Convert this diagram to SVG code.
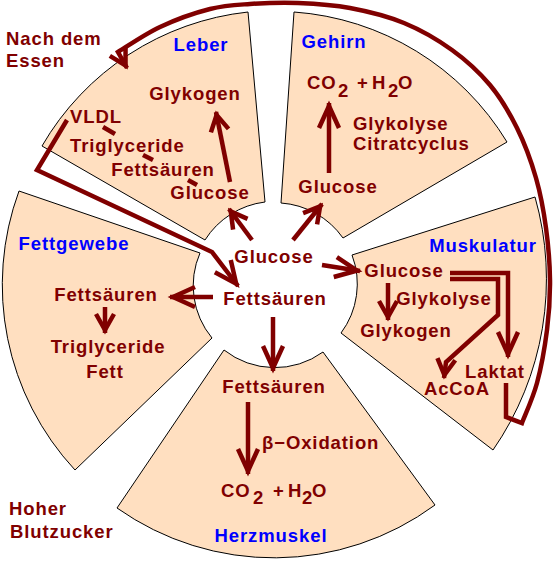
<svg xmlns="http://www.w3.org/2000/svg" width="560" height="563" viewBox="0 0 560 563">
<defs>
<style>
.sec{fill:#FFDFC0;stroke:#000;stroke-width:1}
text{font-family:"Liberation Sans",Arial,sans-serif;font-weight:bold;font-size:18.5px;letter-spacing:0.9px}
.t{fill:#800000}
.h{fill:#0000FF}
.m{text-anchor:middle}
.ar{fill:none;stroke:#800000;stroke-width:4.5;stroke-linejoin:miter}
.s{marker-end:url(#ahs)}
.l{marker-end:url(#ahl)}
</style>
<marker id="ahs" markerUnits="userSpaceOnUse" orient="auto" markerWidth="40" markerHeight="40" viewBox="-30 -20 40 40" refX="3" refY="0" overflow="visible"><path d="M-16,-9 L0,0 L-16,9" fill="none" stroke="#800000" stroke-width="4.5"/></marker>
<marker id="ahl" markerUnits="userSpaceOnUse" orient="auto" markerWidth="40" markerHeight="40" viewBox="-30 -20 40 40" refX="3" refY="0" overflow="visible"><path d="M-22,-10 L0,0 L-22,10" fill="none" stroke="#800000" stroke-width="4.5"/></marker>
</defs>
<rect width="560" height="563" fill="#fff"/>
<g id="leber">
<path class="sec" d="M42,146 A272,272 0 0 1 248,12 L265,202 A83,83 0 0 0 205,240 Z"/>
<text class="h m" x="201" y="51">Leber</text>
<text class="t m" x="195" y="100">Glykogen</text>
<text class="t" x="70" y="123">VLDL</text>
<text class="t" x="70" y="152">Triglyceride</text>
<text class="t m" x="163" y="176">Fettsäuren</text>
<text class="t m" x="210" y="199">Glucose</text>
</g>
<g id="gehirn">
<path class="sec" d="M294,12 A272,272 0 0 1 507,142 L343,238 A83,83 0 0 0 281,203 Z"/>
<text class="h m" x="334" y="48">Gehirn</text>
<text class="t"><tspan x="307" y="89">CO</tspan><tspan x="338" y="97">2</tspan><tspan x="357" y="89">+</tspan><tspan x="372" y="89">H</tspan><tspan x="388" y="97">2</tspan><tspan x="398" y="89">O</tspan></text>
<text class="t" x="353" y="130">Glykolyse</text>
<text class="t" x="353" y="150">Citratcyclus</text>
<text class="t m" x="338" y="193">Glucose</text>
</g>
<g id="muskulatur">
<path class="sec" d="M535,197 A300,300 0 0 1 493,450 L341,333 A82,82 0 0 0 352,255 Z"/>
<text class="h m" x="483" y="252">Muskulatur</text>
<text class="t m" x="404" y="277">Glucose</text>
<text class="t m" x="444" y="305">Glykolyse</text>
<text class="t m" x="406" y="337">Glykogen</text>
<text class="t m" x="495" y="378">Laktat</text>
<text class="t m" x="457" y="395">AcCoA</text>
</g>
<g id="herzmuskel">
<path class="sec" d="M224,350 A82,82 0 0 0 323,352 L435,505 A272,272 0 0 1 117,508 Z"/>
<text class="t m" x="274" y="393">Fettsäuren</text>
<text class="t" x="262" y="449">β−Oxidation</text>
<text class="t"><tspan x="221" y="497">CO</tspan><tspan x="253" y="504">2</tspan><tspan x="273" y="497">+</tspan><tspan x="288" y="497">H</tspan><tspan x="302" y="504">2</tspan><tspan x="312" y="497">O</tspan></text>
<text class="h m" x="271" y="542">Herzmuskel</text>
</g>
<g id="fettgewebe">
<path class="sec" d="M19,191 A272,272 0 0 0 75,470 L212,338 A82,82 0 0 1 200,253 Z"/>
<text class="h m" x="74" y="250">Fettgewebe</text>
<text class="t m" x="106" y="301">Fettsäuren</text>
<text class="t m" x="108" y="353">Triglyceride</text>
<text class="t m" x="105" y="378">Fett</text>
</g>
<g id="zentrum">
<text class="t m" x="274" y="263">Glucose</text>
<text class="t m" x="275" y="305">Fettsäuren</text>
</g>
<g id="labels">
<text class="t" x="6" y="45">Nach dem</text>
<text class="t" x="6" y="67">Essen</text>
<text class="t" x="9" y="515">Hoher</text>
<text class="t" x="10" y="538">Blutzucker</text>
</g>
<g id="connectors">
<path class="ar s" d="M230,182 L216,112"/>
<path class="ar s" d="M252,240 L229,209"/>
<path class="ar s" d="M293,240 L322,204"/>
<path class="ar l" d="M322,265 L360,271"/>
<path class="ar l" d="M213,297 L170,297"/>
<path class="ar l" d="M273,317 L273,371"/>
<path class="ar l" d="M329,173 L329,103"/>
<path class="ar s" d="M105,307 L105,333"/>
<path class="ar l" d="M248,402 L248,474"/>
<path class="ar s" d="M388,283 L388,320"/>
<path class="ar l" d="M450,273 L508,273 L508,357"/>
<path class="ar s" d="M450,279 L498,279 L498,315 L446,362 L444,378"/>
<path class="ar l" d="M67,120 L37,170 L212,252 L238,286"/>
<path class="ar" stroke-width="3.5" d="M103,127 L115,134 M143,155 L153,160 M188,180 L197,185"/>
<path class="ar s" stroke-width="4" d="M506,383 L506,417 L522,423 C524.5,416.3 532.8,398.5 537,383 C541.2,367.5 544.8,347.2 547,330 C549.2,312.8 550.2,297 550,280 C549.8,263 548.3,245 546,228 C543.7,211 540.8,194.7 536,178 C531.2,161.3 524.7,143.5 517,128 C509.3,112.5 500.8,98 490,85 C479,72 466.3,60.3 452,50 C437.7,39.7 421,30 404,23 C387,16 367.7,11.3 350,8 C332.3,4.7 314.7,3.7 298,3 C281.3,2.3 264.7,3 250,4 C235.3,5 225,5.2 210,9 C195,12.8 175.3,19.8 160,27 C144.7,34.2 125,47.8 118,52 L127,68"/>
</g>
</svg>
